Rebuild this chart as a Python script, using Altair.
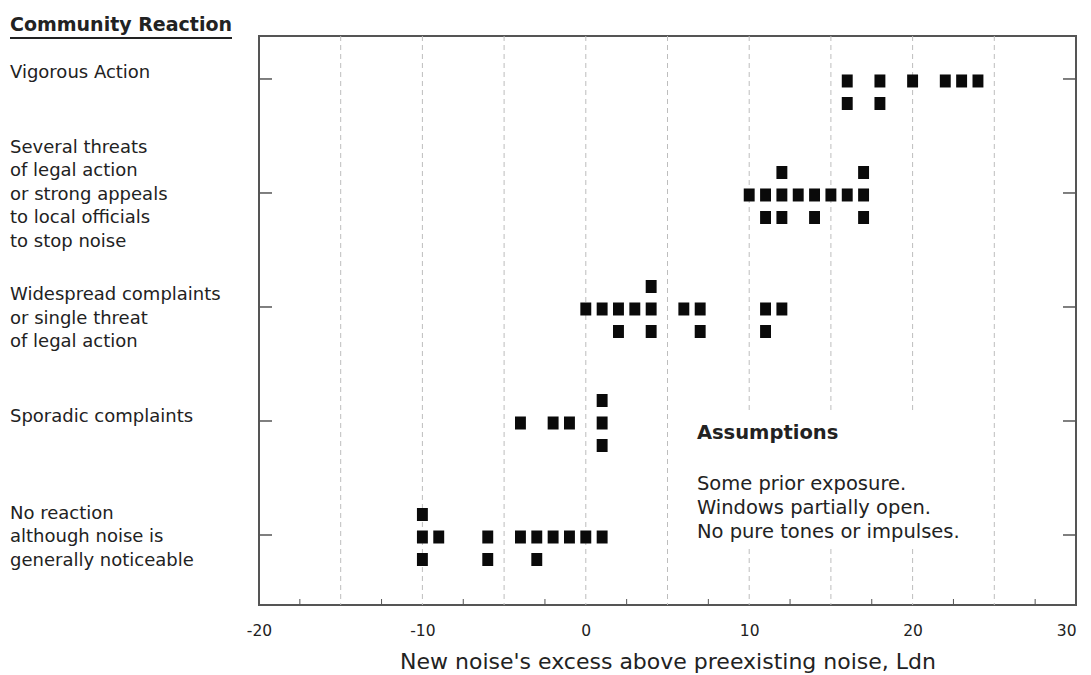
import altair as alt
import pandas as pd

# ---------------- data ----------------
label_lines = [
    ["Vigorous Action"],
    ["Several threats", "of legal action", "or strong appeals", "to local officials", "to stop noise"],
    ["Widespread complaints", "or single threat", "of legal action"],
    ["Sporadic complaints"],
    ["No reaction", "although noise is", "generally noticeable"],
]
cat_pos = [4, 3, 2, 1, 0]

# each category: squares in upper / middle / lower row (x = Ldn excess)
vig_upper = []
vig_mid = [16, 18, 20, 22, 23, 24]
vig_lower = [16, 18]
sev_upper = [12, 17]
sev_mid = [10, 11, 12, 13, 14, 15, 16, 17]
sev_lower = [11, 12, 14, 17]
wid_upper = [4]
wid_mid = [0, 1, 2, 3, 4, 6, 7, 11, 12]
wid_lower = [2, 4, 7, 11]
spo_upper = [1]
spo_mid = [-4, -2, -1, 1]
spo_lower = [1]
nor_upper = [-10]
nor_mid = [-10, -9, -6, -4, -3, -2, -1, 0, 1]
nor_lower = [-10, -6, -3]

x_label_values = [-20, -10, 0, 10, 20, 30]
grid_values = [-15, -10, -5, 0, 5, 10, 15, 20, 25]
minor_tick_values = [-17.5, -12.5, -7.5, -2.5, 2.5, 7.5, 12.5, 17.5, 22.5, 27.5]

assump_title = "Assumptions"
assump_lines = ["Some prior exposure.", "Windows partially open.", "No pure tones or impulses."]
x_title = "New noise's excess above preexisting noise, Ldn"
y_title = "Community Reaction"

# ---------------- layout ----------------
W, H = 817, 569
Y_DOM = [-0.614, 4.377]
PX = H / (Y_DOM[1] - Y_DOM[0])
ROW = 22.5 / PX
LH = 23.5
label_shift_px = [-6, 2, 12, -4, 2]

FONT = "DejaVu Sans"
INK = "#222222"
FRAME = "#555555"

rows = []
groups = [
    (vig_upper, vig_mid, vig_lower),
    (sev_upper, sev_mid, sev_lower),
    (wid_upper, wid_mid, wid_lower),
    (spo_upper, spo_mid, spo_lower),
    (nor_upper, nor_mid, nor_lower),
]
for pos, (up, mid, lo) in zip(cat_pos, groups):
    for lvl, xs in ((1, up), (0, mid), (-1, lo)):
        for v in xs:
            rows.append({"x": v, "y": pos + lvl * ROW - 2 / PX})
pts = pd.DataFrame(rows)

lab_rows = []
for pos, lines, s in zip(cat_pos, label_lines, label_shift_px):
    n = len(lines)
    for i, t in enumerate(lines):
        lab_rows.append({"y": pos - (s + (i - (n - 1) / 2) * LH) / PX, "text": t})
labels = pd.DataFrame(lab_rows)

cats = pd.DataFrame({"y": cat_pos})
grid = pd.DataFrame({"x": grid_values})
minor = pd.DataFrame({"x": minor_tick_values})

xscale = alt.Scale(domain=[-20, 30], nice=False, zero=False)
yscale = alt.Scale(domain=Y_DOM, nice=False, zero=False)
xaxis = alt.Axis(values=x_label_values, grid=False, ticks=False, tickSize=0, domain=False,
                 labelFlush=False, labelOverlap=False,
                 labelAlign={"expr": "datum.value == 30 ? 'right' : 'center'"},
                 labelExpr="datum.value < 0 ? '-' + abs(datum.value) : '' + datum.value",
                 labelFont=FONT, labelFontSize=15.5, labelColor=INK, labelPadding=18,
                 title=x_title, titleFont=FONT, titleFontSize=22, titleFontWeight="normal",
                 titleColor=INK, titlePadding=13)


def X(field):
    return alt.X(field, type="quantitative", scale=xscale, axis=xaxis)


def Y(field):
    return alt.Y(field, type="quantitative", scale=yscale, axis=None)


grid_layer = alt.Chart(grid).mark_rule(color="#bdbdbd", strokeDash=[5, 4], strokeWidth=1).encode(x=X("x"))

box = pd.DataFrame({"x1": [6.4], "x2": [20.7], "y1": [1.08], "y2": [-0.114]})
box_layer = alt.Chart(box).mark_rect(color="white").encode(
    x=X("x1"), x2="x2", y=Y("y1"), y2="y2")

minor_layer = alt.Chart(minor).mark_rule(color=FRAME, strokeWidth=1).encode(
    x=X("x"), y=alt.value(H - 6), y2=alt.value(H))

ltick = alt.Chart(cats).mark_rule(color=FRAME, strokeWidth=1.5).encode(
    y=Y("y"), x=alt.value(0), x2=alt.value(13))
rtick = alt.Chart(cats).mark_rule(color=FRAME, strokeWidth=1.5).encode(
    y=Y("y"), x=alt.value(W - 13), x2=alt.value(W))

squares = alt.Chart(pts).mark_point(
    shape="M-0.84,-1L0.84,-1L0.84,1L-0.84,1Z", filled=True, opacity=1,
    color="#0a0a0a", size=169, strokeWidth=0
).encode(x=X("x"), y=Y("y"))

label_layer = alt.Chart(labels).mark_text(
    align="left", baseline="middle", font=FONT, fontSize=18, color=INK
).encode(y=Y("y"), x=alt.value(-249), text="text:N")

title_df = pd.DataFrame({"t": [y_title]})
title_layer = alt.Chart(title_df).mark_text(
    align="left", baseline="alphabetic", font=FONT, fontSize=19, fontWeight="bold", color=INK
).encode(x=alt.value(-249), y=alt.value(-5), text="t:N")
underline = alt.Chart(title_df).mark_rule(color=INK, strokeWidth=2).encode(
    x=alt.value(-249), x2=alt.value(-27), y=alt.value(2))

ass_head = pd.DataFrame({"x": [6.8], "y": [0.895], "t": [assump_title]})
ass_body = pd.DataFrame({
    "x": [6.8] * len(assump_lines),
    "y": [0.447 - i * 24 / PX for i in range(len(assump_lines))],
    "t": assump_lines,
})
ass_head_layer = alt.Chart(ass_head).mark_text(
    align="left", baseline="middle", font=FONT, fontSize=19.5, fontWeight="bold", color=INK
).encode(x=X("x"), y=Y("y"), text="t:N")
ass_body_layer = alt.Chart(ass_body).mark_text(
    align="left", baseline="middle", font=FONT, fontSize=19.5, color=INK
).encode(x=X("x"), y=Y("y"), text="t:N")

chart = alt.layer(
    grid_layer, box_layer, minor_layer, ltick, rtick, squares,
    label_layer, title_layer, underline, ass_head_layer, ass_body_layer
).properties(
    width=W, height=H,
    padding={"left": 251, "top": 28, "right": 7, "bottom": 68},
    autosize=alt.AutoSizeParams(type="none"),
).configure(background="white").configure_view(stroke=FRAME, strokeWidth=2)

chart.save("out.html", embed_options={"renderer": "svg", "actions": False})
